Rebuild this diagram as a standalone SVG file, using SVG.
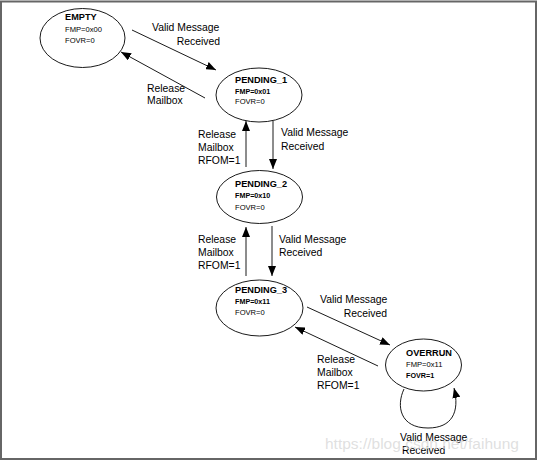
<svg xmlns="http://www.w3.org/2000/svg" width="540" height="462" viewBox="0 0 540 462">
<style>
.st{fill:#fff;stroke:#000;stroke-width:0.9}
.h{font-family:"Liberation Sans",Arial,sans-serif;font-weight:bold;font-size:9.2px;fill:#000}
.s{font-family:"Liberation Sans",Arial,sans-serif;font-size:7.6px;fill:#000}
.sb{font-family:"Liberation Sans",Arial,sans-serif;font-size:7.2px;font-weight:bold;fill:#000}
.lb{font-family:"Liberation Sans",Arial,sans-serif;font-size:10.4px;fill:#000}
.c{fill:none;stroke:#000;stroke-width:0.9}
</style>
<defs>
<marker id="ah" viewBox="0 0 10 8" refX="10" refY="4" markerWidth="10" markerHeight="8" markerUnits="userSpaceOnUse" orient="auto">
<path d="M0,0 L10,4 L0,8 z" fill="#000"/>
</marker>
</defs>
<rect x="0" y="0" width="540" height="462" fill="#fff"/>
<rect x="1" y="1.5" width="535" height="457.5" fill="none" stroke="#666" stroke-width="2"/>
<g id="connectors">
<line class="c" x1="132" y1="30" x2="216" y2="70" marker-end="url(#ah)"/>
<line class="c" x1="205" y1="98" x2="121" y2="52" marker-end="url(#ah)"/>
<line class="c" x1="246" y1="167" x2="246" y2="121" marker-end="url(#ah)"/>
<line class="c" x1="273" y1="121" x2="273" y2="169" marker-end="url(#ah)"/>
<line class="c" x1="246" y1="276" x2="246" y2="227" marker-end="url(#ah)"/>
<line class="c" x1="272" y1="226" x2="272" y2="276" marker-end="url(#ah)"/>
<line class="c" x1="307" y1="307" x2="390" y2="345" marker-end="url(#ah)"/>
<line class="c" x1="378" y1="366" x2="295" y2="327" marker-end="url(#ah)"/>
<path class="c" d="M404,389 C396,406 400,428 428,428 C452,428 460,412 454,388" marker-end="url(#ah)"/>
<text class="lb" x="152" y="31">Valid Message</text>
<text class="lb" x="220" y="45" text-anchor="end">Received</text>
<text class="lb" x="147" y="92">Release</text>
<text class="lb" x="147" y="104">Mailbox</text>
<text class="lb" x="198" y="138">Release</text>
<text class="lb" x="198" y="151">Mailbox</text>
<text class="lb" x="198" y="164">RFOM=1</text>
<text class="lb" x="281" y="136">Valid Message</text>
<text class="lb" x="281" y="150">Received</text>
<text class="lb" x="198" y="243">Release</text>
<text class="lb" x="198" y="256">Mailbox</text>
<text class="lb" x="198" y="269">RFOM=1</text>
<text class="lb" x="279" y="243">Valid Message</text>
<text class="lb" x="279" y="256">Received</text>
<text class="lb" x="320" y="303">Valid Message</text>
<text class="lb" x="387" y="317" text-anchor="end">Received</text>
<text class="lb" x="317" y="363">Release</text>
<text class="lb" x="317" y="376">Mailbox</text>
<text class="lb" x="317" y="389">RFOM=1</text>
<text class="lb" x="400" y="441">Valid Message</text>
<text class="lb" x="402" y="454">Received</text>
</g>
<g id="EMPTY">
<ellipse class="st" cx="82.5" cy="38" rx="42.5" ry="29.5"/>
<text class="h" x="65" y="19.5">EMPTY</text>
<text class="s" x="65" y="31.5">FMP=0x00</text>
<text class="s" x="65" y="42.5">FOVR=0</text>
</g>
<g id="PENDING_1">
<ellipse class="st" cx="259" cy="95" rx="43" ry="27"/>
<text class="h" x="235" y="83">PENDING_1</text>
<text class="sb" x="235" y="93.5">FMP=0x01</text>
<text class="s" x="235" y="104">FOVR=0</text>
</g>
<g id="PENDING_2">
<ellipse class="st" cx="259.5" cy="197" rx="43" ry="26.5"/>
<text class="h" x="235" y="187">PENDING_2</text>
<text class="sb" x="235" y="198">FMP=0x10</text>
<text class="s" x="235" y="210">FOVR=0</text>
</g>
<g id="PENDING_3">
<ellipse class="st" cx="259.5" cy="308" rx="43.5" ry="28"/>
<text class="h" x="235" y="293">PENDING_3</text>
<text class="sb" x="235" y="304">FMP=0x11</text>
<text class="s" x="235" y="315">FOVR=0</text>
</g>
<g id="OVERRUN">
<ellipse class="st" cx="423.5" cy="365" rx="38" ry="26"/>
<text class="h" x="406" y="356">OVERRUN</text>
<text class="s" x="406" y="366.5">FMP=0x11</text>
<text class="sb" x="406" y="378">FOVR=1</text>
</g>
<text x="325" y="449" font-family="Liberation Sans,Arial,sans-serif" font-size="15.5px" fill="#d8d8d8" fill-opacity="0.8">https://blog.csdn.net/faihung</text>
</svg>
